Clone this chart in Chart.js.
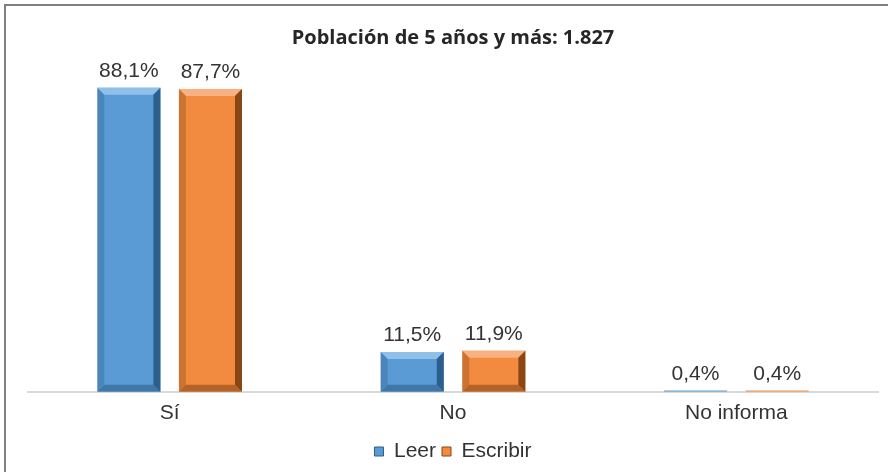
<!DOCTYPE html>
<html>
<head>
<meta charset="utf-8">
<script src="https://cdn.jsdelivr.net/npm/chart.js@4.4.1/dist/chart.umd.min.js"></script>
<style>
  html, body { margin: 0; padding: 0; background: #fff; }
  #wrap { position: relative; width: 888px; height: 472px; overflow: hidden; }
  #frame { position: absolute; left: 4px; top: 4px; width: 900px; height: 500px;
           border: 2px solid #808080; pointer-events: none; }
  canvas { position: absolute; left: 0; top: 0; }
</style>
</head>
<body>
<div id="wrap">
  <canvas id="chart" width="888" height="472"></canvas>
  <div id="frame"></div>
</div>
<script>
  // chart data
  const categories = ['Sí', 'No', 'No informa'];
  const leer = [88.1, 11.5, 0.4];
  const escribir = [87.7, 11.9, 0.4];
  const seriesNames = ['Leer', 'Escribir'];
  const titleText = 'Población de 5 años y más: 1.827';

  const fillColors = ['#5B9BD5', '#F28B40'];
  const darkColors = ['#2D5F8C', '#8A4716'];
  const lightColors = ['#8FC0EA', '#F8B182'];
  const textFont = '"Liberation Sans", Arial, sans-serif';

  // bevel effect + value labels drawn from the bar elements
  const bevelPlugin = {
    id: 'bevel',
    afterDatasetsDraw(chart) {
      const ctx = chart.ctx;
      chart.data.datasets.forEach((ds, di) => {
        const meta = chart.getDatasetMeta(di);
        meta.data.forEach((bar, i) => {
          const p = bar.getProps(['x', 'y', 'base', 'width'], true);
          const l = p.x - p.width / 2, r = p.x + p.width / 2;
          const t = p.y, b = p.base;
          const h = b - t;
          const e = Math.min(7, h / 2);
          if (h > 2) {
            ctx.save();
            ctx.fillStyle = lightColors[di];
            ctx.beginPath();
            ctx.moveTo(l, t); ctx.lineTo(r, t); ctx.lineTo(r - e, t + e); ctx.lineTo(l + e, t + e);
            ctx.closePath(); ctx.fill();
            ctx.fillStyle = darkColors[di];
            ctx.beginPath();
            ctx.moveTo(r, t); ctx.lineTo(r, b); ctx.lineTo(r - e, b - e); ctx.lineTo(r - e, t + e);
            ctx.closePath(); ctx.fill();
            ctx.globalAlpha = 0.6;
            ctx.beginPath();
            ctx.moveTo(l, b); ctx.lineTo(r, b); ctx.lineTo(r - e, b - e); ctx.lineTo(l + e, b - e);
            ctx.closePath(); ctx.fill();
            ctx.globalAlpha = 0.35;
            ctx.beginPath();
            ctx.moveTo(l, t); ctx.lineTo(l + e, t + e); ctx.lineTo(l + e, b - e); ctx.lineTo(l, b);
            ctx.closePath(); ctx.fill();
            ctx.restore();
          }
          ctx.save();
          ctx.fillStyle = '#333333';
          ctx.font = '21px ' + textFont;
          ctx.textAlign = 'center';
          ctx.textBaseline = 'bottom';
          ctx.fillText(ds.data[i].toFixed(1).replace('.', ',') + '%', p.x, t - 6);
          ctx.restore();
        });
      });
    }
  };

  new Chart(document.getElementById('chart'), {
    type: 'bar',
    data: {
      labels: categories,
      datasets: [
        { label: seriesNames[0], data: leer, backgroundColor: fillColors[0], borderWidth: 0,
          categoryPercentage: 0.576, barPercentage: 0.773 },
        { label: seriesNames[1], data: escribir, backgroundColor: fillColors[1], borderWidth: 0,
          categoryPercentage: 0.576, barPercentage: 0.773 }
      ]
    },
    options: {
      responsive: false,
      animation: false,
      layout: { padding: { left: 28, right: 10, top: 26, bottom: 0 } },
      plugins: {
        title: {
          display: true,
          text: titleText,
          color: '#262626',
          font: { family: '"Open Sans", sans-serif', size: 20, weight: 'bold' },
          padding: { top: 0, bottom: 0 }
        },
        legend: {
          position: 'bottom',
          labels: {
            color: '#333333',
            boxWidth: 9,
            boxHeight: 9,
            padding: 6,
            font: { family: textFont, size: 21 },
            generateLabels(chart) {
              return chart.data.datasets.map((ds, i) => ({
                text: ds.label,
                fillStyle: fillColors[i],
                strokeStyle: darkColors[i],
                lineWidth: 1,
                datasetIndex: i,
                fontColor: '#333333'
              }));
            }
          }
        },
        tooltip: { enabled: false }
      },
      scales: {
        x: {
          grid: { display: false, drawTicks: false },
          border: { display: true, color: '#D9D9D9', width: 2 },
          ticks: {
            color: '#333333',
            padding: 9,
            font: { family: textFont, size: 21 }
          }
        },
        y: {
          display: false,
          min: 0,
          max: 99
        }
      }
    },
    plugins: [bevelPlugin]
  });
</script>
</body>
</html>
